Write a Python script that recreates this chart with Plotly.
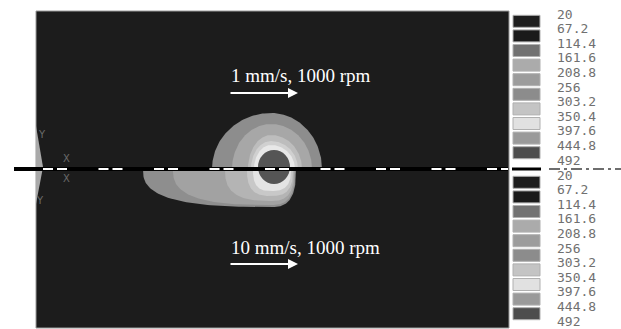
import numpy as np
import plotly.graph_objects as go

# Temperature scale (deg C) shared by both halves
levels = [20, 67.2, 114.4, 161.6, 208.8, 256, 303.2, 350.4, 397.6, 444.8, 492]

# Isotherm reach measured from the tool axis, outermost band first
# upper half: 1 mm/s traverse
top_reach_left = [59, 39, 23, 20, 17]
top_reach_right = [51, 41, 31, 27, 24]
top_reach_up = [56, 45, 34, 28, 24]
# lower half: 10 mm/s traverse
bot_reach_left = [128, 98, 46, 24, 18]
bot_reach_right = [25, 24, 23, 22, 20]
bot_reach_down = [38, 36, 32, 27, 22]

# tool shoulder footprint
tool_radius = 16

# ---- styling -------------------------------------------------------------
PANEL = "#1c1c1c"
level_greys = ["#1e1e1e", "#1a1a1a", "#727272", "#ababab", "#9c9c9c",
               "#8c8c8c", "#c4c4c4", "#e1e1e1", "#9a9a9a", "#4d4d4d"]
top_band_greys = ["#8d8d8d", "#a7a7a7", "#bdbdbd", "#d0d0d0", "#e8e8e8"]
bot_band_greys = ["#8e8e8e", "#a2a2a2", "#b4b4b4", "#c8c8c8", "#e4e4e4"]
TOP_SQUARENESS, BOT_SQUARENESS = 2.0, 2.8
TOOL = "#555555"

W, H = 621, 329
X0, Y0 = 271, 169          # tool axis position inside the frame


def sx(px):
    return px - X0


def sy(py):
    return Y0 - py


def half_band(left, right, reach, sign, p):
    t = np.linspace(0, np.pi, 120)
    c, s = np.cos(t), np.sin(t)
    r = np.where(c >= 0, right, left)
    e = 2.0 / p
    return r * np.sign(c) * np.abs(c) ** e, sign * reach * np.abs(s) ** e


fig = go.Figure()

# upper half isotherm bands
for l, r, h, g in zip(top_reach_left, top_reach_right, top_reach_up, top_band_greys):
    x, y = half_band(l, r, h, 1, TOP_SQUARENESS)
    fig.add_trace(go.Scatter(x=x, y=y, fill="toself", fillcolor=g, mode="lines",
                             line=dict(width=0, color=g), hoverinfo="skip"))
# lower half isotherm bands
for l, r, h, g in zip(bot_reach_left, bot_reach_right, bot_reach_down, bot_band_greys):
    x, y = half_band(l, r, h, -1, BOT_SQUARENESS)
    fig.add_trace(go.Scatter(x=x, y=y, fill="toself", fillcolor=g, mode="lines",
                             line=dict(width=0, color=g), hoverinfo="skip"))

# coordinate triad sliver on the left edge
fig.add_trace(go.Scatter(x=[sx(36), sx(43), sx(36)], y=[sy(126), sy(167), sy(204)],
                         fill="toself", fillcolor="#a9a9a9", mode="lines",
                         line=dict(width=0), hoverinfo="skip"))

shapes = []
# dark model frame
shapes.append(dict(type="rect", layer="below", x0=sx(36), x1=sx(509), y0=sy(328), y1=sy(11),
                   fillcolor=PANEL, line=dict(color="#9a9a9a", width=1)))
# tool footprint
shapes.append(dict(type="circle", x0=3 - tool_radius, x1=3 + tool_radius,
                   y0=2 - tool_radius - 1, y1=2 + tool_radius + 1,
                   fillcolor=TOOL, line=dict(width=0)))
# weld line: black band with white dash pairs
shapes.append(dict(type="line", x0=sx(14), x1=sx(508), y0=0, y1=0,
                   line=dict(color="#000000", width=4)))
shapes.append(dict(type="line", x0=sx(43), x1=sx(508), y0=0, y1=0,
                   line=dict(color="#ffffff", width=2, dash="10px,4px,10px,31.5px")))
shapes.append(dict(type="line", x0=sx(512), x1=sx(541), y0=0, y1=0,
                   line=dict(color="#000000", width=3)))
shapes.append(dict(type="line", x0=sx(549), x1=sx(621), y0=0, y1=0,
                   line=dict(color="#6e6e6e", width=2, dash="11px,4px,3px,4px")))

annotations = []
# legend columns for both halves
for top_px, step in ((14.0, 14.6), (175.0, 14.6)):
    for i, v in enumerate(levels):
        yc = top_px + step * i
        annotations.append(dict(x=sx(555), y=sy(yc), text=f"{v:g}", showarrow=False,
                                xanchor="left", yanchor="middle",
                                font=dict(family="DejaVu Sans Mono", size=13, color="#707070")))
    for i, g in enumerate(level_greys):
        yc = top_px + step * (i + 0.5)
        shapes.append(dict(type="rect", x0=sx(513), x1=sx(540), y0=sy(yc + 6), y1=sy(yc - 6),
                           fillcolor=g, line=dict(color="#b0b0b0", width=1)))

# process labels and travel arrows
for label, ty, ay in (("1 mm/s, 1000 rpm", 75.5, 93), ("10 mm/s, 1000 rpm", 247.5, 264)):
    annotations.append(dict(x=sx(229), y=sy(ty), text=label, showarrow=False,
                            xanchor="left", yanchor="middle",
                            font=dict(family="Liberation Serif", size=19, color="#ffffff")))
    annotations.append(dict(x=sx(298), y=sy(ay), ax=sx(229), ay=sy(ay), axref="x", ayref="y",
                            text="", showarrow=True, arrowhead=2, arrowsize=1,
                            arrowwidth=2, arrowcolor="#ffffff"))

# triad axis letters
for t, px, py in (("Y", 42, 134), ("X", 66, 158), ("X", 66, 178), ("Y", 40, 200)):
    annotations.append(dict(x=sx(px), y=sy(py), text=t, showarrow=False,
                            font=dict(family="DejaVu Sans", size=10, color="#6a6a6a")))

fig.update_layout(
    width=W, height=H, margin=dict(l=0, r=0, t=0, b=0),
    paper_bgcolor="#ffffff", plot_bgcolor="#ffffff", showlegend=False,
    xaxis=dict(range=[sx(0), sx(W)], visible=False, fixedrange=True),
    yaxis=dict(range=[sy(H), sy(0)], visible=False, fixedrange=True),
    shapes=shapes, annotations=annotations,
)
fig.write_html("out.html")
